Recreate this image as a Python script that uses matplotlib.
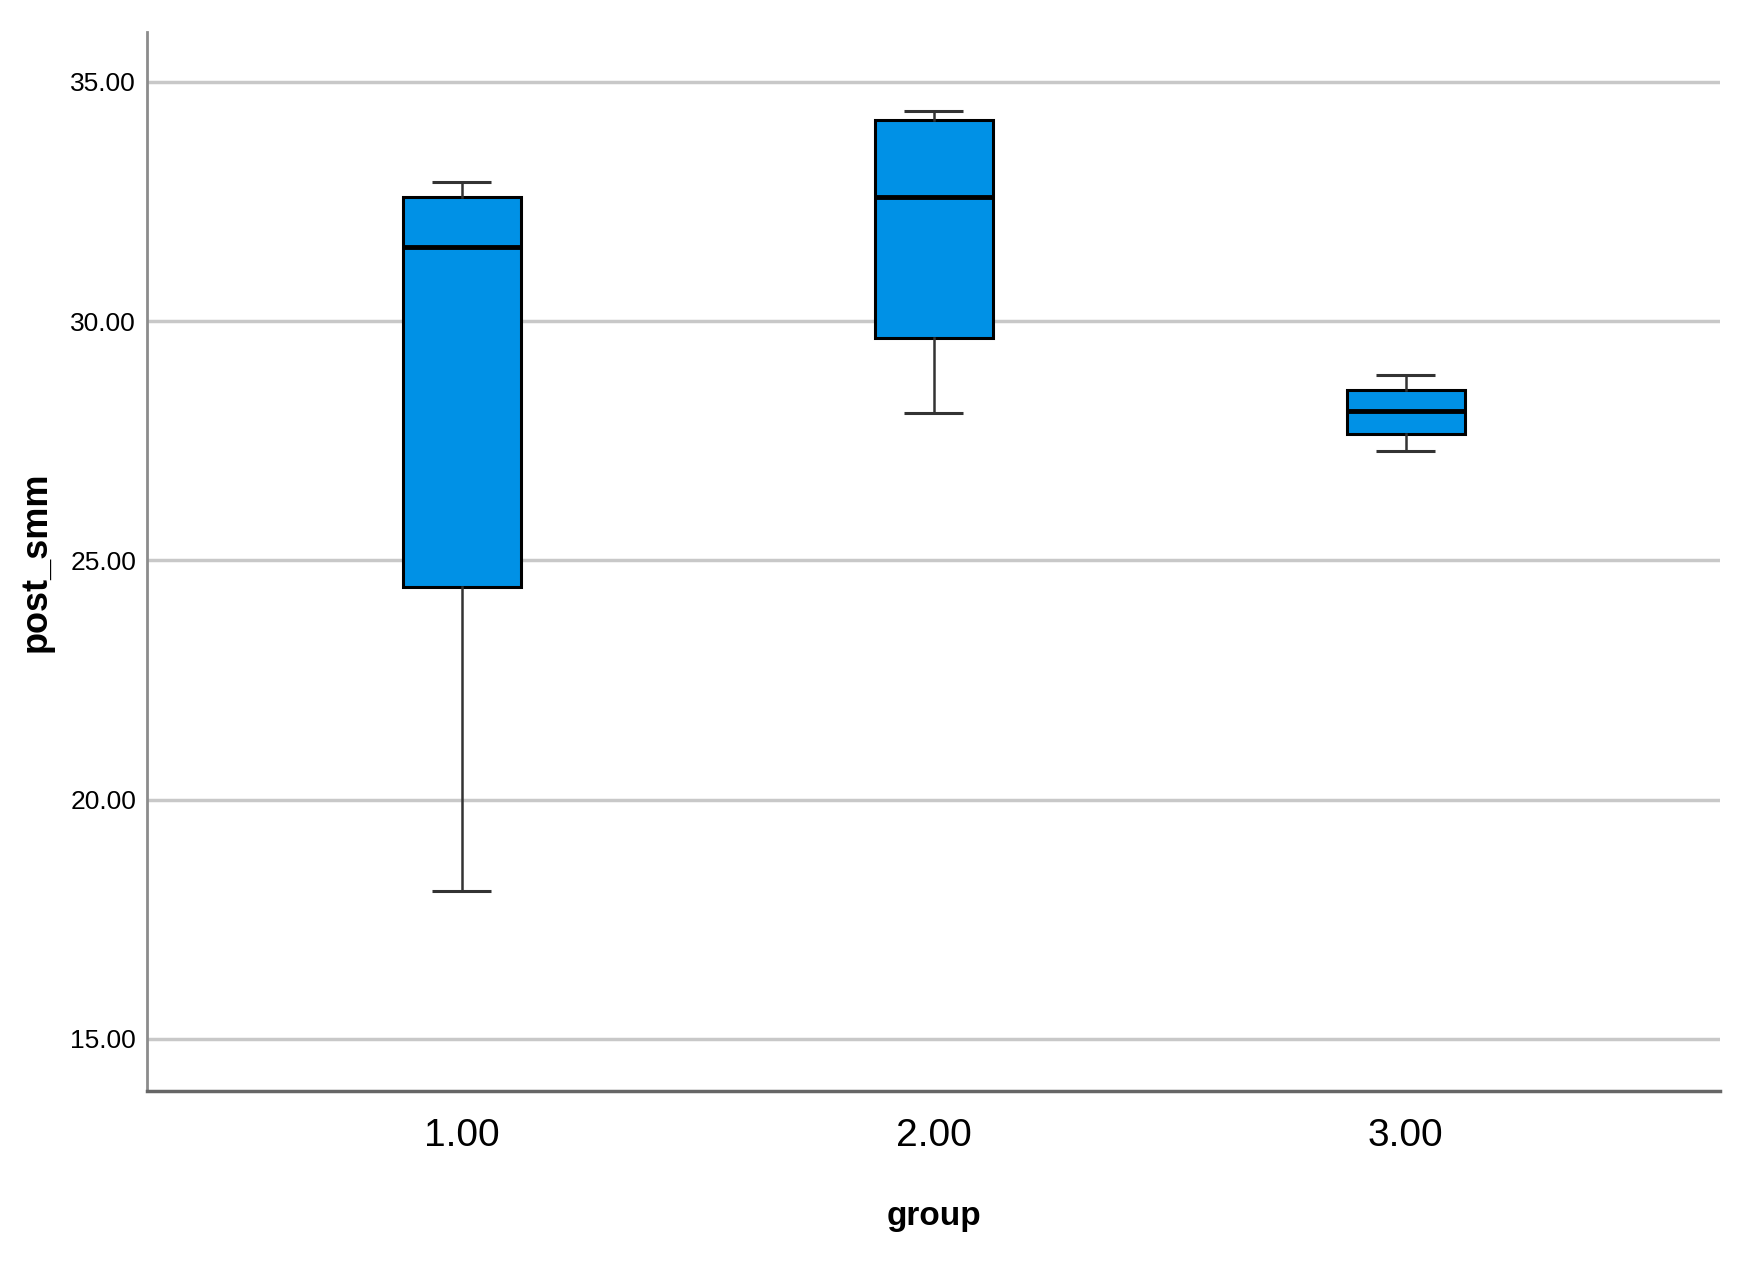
import matplotlib.pyplot as plt
from matplotlib import font_manager

groups = ["1.00", "2.00", "3.00"]
whislo = [18.08, 28.08, 27.29]
q1 = [24.44, 29.65, 27.64]
med = [31.54, 32.59, 28.13]
q3 = [32.59, 34.21, 28.57]
whishi = [32.90, 34.39, 28.88]
yticks = [15, 20, 25, 30, 35]

names = {f.name for f in font_manager.fontManager.ttflist}
narrow = "Liberation Sans Narrow" if "Liberation Sans Narrow" in names else "Liberation Sans"

fig = plt.figure(figsize=(17.52, 12.64), dpi=100)
ax = fig.add_axes([0.084, 0.1365, 0.898, 0.8385])

stats = []
for i, g in enumerate(groups):
    stats.append(dict(label=g, whislo=whislo[i], q1=q1[i], med=med[i],
                      q3=q3[i], whishi=whishi[i], fliers=[]))

pos = list(range(1, len(groups) + 1))
ax.bxp(stats, positions=pos, widths=0.25, patch_artist=True, showfliers=False,
       boxprops=dict(facecolor="#0091E6", edgecolor="black", linewidth=2.2),
       medianprops=dict(color="black", linewidth=3.5),
       whiskerprops=dict(color="#333333", linewidth=1.8),
       capprops=dict(color="#333333", linewidth=2.2, solid_capstyle="butt"),
       capwidths=0.125, zorder=3)

ax.set_xlim(1 / 3, 3 + 2 / 3)
ax.set_ylim(13.9, 36.05)
ax.set_yticks(yticks)
ax.set_yticklabels([f"{v:.2f}" for v in yticks], fontfamily=narrow, fontsize=19)
ax.set_xticks(pos)
ax.set_xticklabels(groups, fontfamily=narrow, fontsize=28)
ax.tick_params(axis="y", length=0, pad=8)
ax.tick_params(axis="x", length=0, pad=19)
ax.grid(axis="y", color="#C8C8C8", linewidth=2.5, zorder=0)
ax.set_axisbelow(True)

for s in ["top", "right"]:
    ax.spines[s].set_visible(False)
ax.spines["left"].set_color("#8C8C8C")
ax.spines["left"].set_linewidth(2)
ax.spines["bottom"].set_color("#666666")
ax.spines["bottom"].set_linewidth(2.5)

ax.set_xlabel("group", fontfamily="Liberation Sans", fontweight="bold", fontsize=24, labelpad=34)
ax.set_ylabel("post_smm", fontfamily="Liberation Sans", fontweight="bold", fontsize=26, labelpad=12)

fig.savefig("out.png", dpi=100)
